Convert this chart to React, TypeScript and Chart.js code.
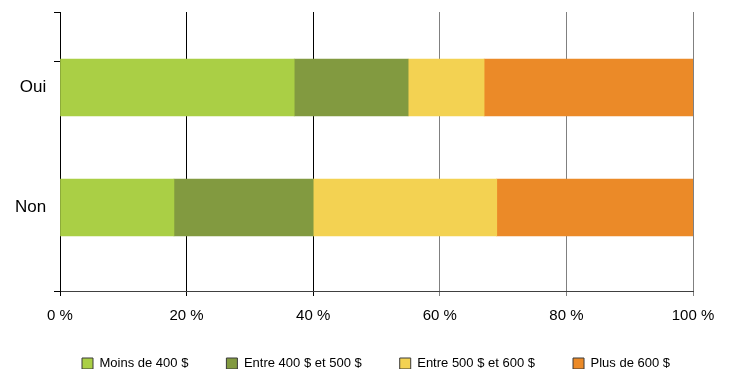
import React, { useEffect, useRef } from 'react';
import { Chart, registerables } from 'chart.js';

Chart.register(...registerables);

// ---- Data ----
const categories = ['Oui', 'Non'];
const seriesLabels = ['Moins de 400 $', 'Entre 400 $ et 500 $', 'Entre 500 $ et 600 $', 'Plus de 600 $'];
const moins400 = [37, 18];
const entre400et500 = [18, 22];
const entre500et600 = [12, 29];
const plus600 = [33, 31];
const xTickValues = [0, 20, 40, 60, 80, 100];

// ---- Styles ----
const seriesColors = ['#AACF45', '#829A40', '#F3D252', '#EB8A28'];
const FONT = "'Liberation Sans', Arial, Helvetica, sans-serif";
// category axis placement (start value / range in category units)
const CAT_START = -0.629;
const CAT_RANGE = 2.325;
const LEGEND_SHIFT = 6;

const yTickMarks = {
  id: 'yTickMarks',
  afterDraw(chart: any) {
    const { ctx, chartArea } = chart;
    const meta = chart.getDatasetMeta(0);
    const bar: any = meta && meta.data[0];
    const ys = [chartArea.top, chartArea.bottom];
    if (bar) ys.push(bar.y - bar.height / 2 + 2);
    ctx.save();
    ctx.strokeStyle = '#000';
    ctx.lineWidth = 1;
    ys.forEach((y) => {
      const yy = Math.round(y) + 0.5;
      ctx.beginPath();
      ctx.moveTo(chartArea.left - 6, yy);
      ctx.lineTo(chartArea.left, yy);
      ctx.stroke();
    });
    ctx.restore();
  },
};

const legendShift = {
  id: 'legendShift',
  afterLayout(chart: any) {
    const l = chart.legend;
    if (l) {
      l.top -= LEGEND_SHIFT;
    }
  },
};

export default function App() {
  const canvasRef = useRef<HTMLCanvasElement | null>(null);

  useEffect(() => {
    document.body.style.margin = '0';
    const canvas = canvasRef.current;
    if (!canvas) return;
    const seriesData = [moins400, entre400et500, entre500et600, plus600];
    const chart = new Chart(canvas, {
      type: 'bar',
      data: {
        labels: categories,
        datasets: seriesLabels.map((label, i) => ({
          label,
          data: seriesData[i],
          backgroundColor: seriesColors[i],
          borderWidth: 0,
          barThickness: 57,
        })),
      },
      plugins: [yTickMarks, legendShift],
      options: {
        indexAxis: 'y',
        responsive: false,
        animation: false,
        devicePixelRatio: 1,
        layout: { padding: { left: 44, right: 0, top: 12, bottom: 0 } },
        plugins: {
          tooltip: { enabled: false },
          legend: {
            position: 'bottom',
            align: 'start',
            maxHeight: 44,
            labels: {
              boxWidth: 11,
              boxHeight: 11,
              padding: 38,
              color: '#000',
              font: { family: FONT, size: 13 },
              generateLabels: (chart: any) => {
                const items = Chart.defaults.plugins.legend.labels.generateLabels(chart);
                return items.map((it: any) => ({ ...it, strokeStyle: '#3a3a3a', lineWidth: 1 }));
              },
            },
          },
        },
        scales: {
          x: {
            type: 'linear',
            stacked: true,
            min: 0,
            max: 100,
            afterBuildTicks: (scale: any) => {
              scale.ticks = xTickValues.map((v) => ({ value: v }));
            },
            afterFit: (scale: any) => {
              scale.height = 34;
            },
            ticks: {
              callback: (v: any) => v + ' %',
              color: '#000',
              padding: 11,
              font: { family: FONT, size: 15 },
              maxRotation: 0,
            },
            grid: {
              color: (ctx: any) => (ctx.index <= 2 ? '#000000' : '#808080'),
              lineWidth: 1,
              tickLength: 5,
              drawTicks: true,
            },
            border: { display: true, color: '#404040', width: 1 },
          },
          y: {
            type: 'category',
            stacked: true,
            afterBuildTicks: (scale: any) => {
              scale._startValue = CAT_START;
              scale._valueRange = CAT_RANGE;
            },
            afterFit: (scale: any) => {
              scale.width = 16;
            },
            ticks: {
              color: '#000',
              mirror: true,
              crossAlign: 'far',
              padding: -45,
              font: { family: FONT, size: 17 },
            },
            grid: { display: false, drawTicks: false },
            border: { display: true, color: '#000', width: 1 },
          },
          y2: {
            type: 'linear',
            position: 'right',
            display: true,
            ticks: { display: false },
            grid: { display: false, drawTicks: false },
            border: { display: false },
            afterFit: (scale: any) => {
              scale.width = 37;
            },
          },
        },
      } as any,
    });
    return () => chart.destroy();
  }, []);

  return (
    <div style={{ width: 730, height: 369 }}>
      <canvas ref={canvasRef} width={730} height={369} style={{ display: 'block' }} />
    </div>
  );
}
